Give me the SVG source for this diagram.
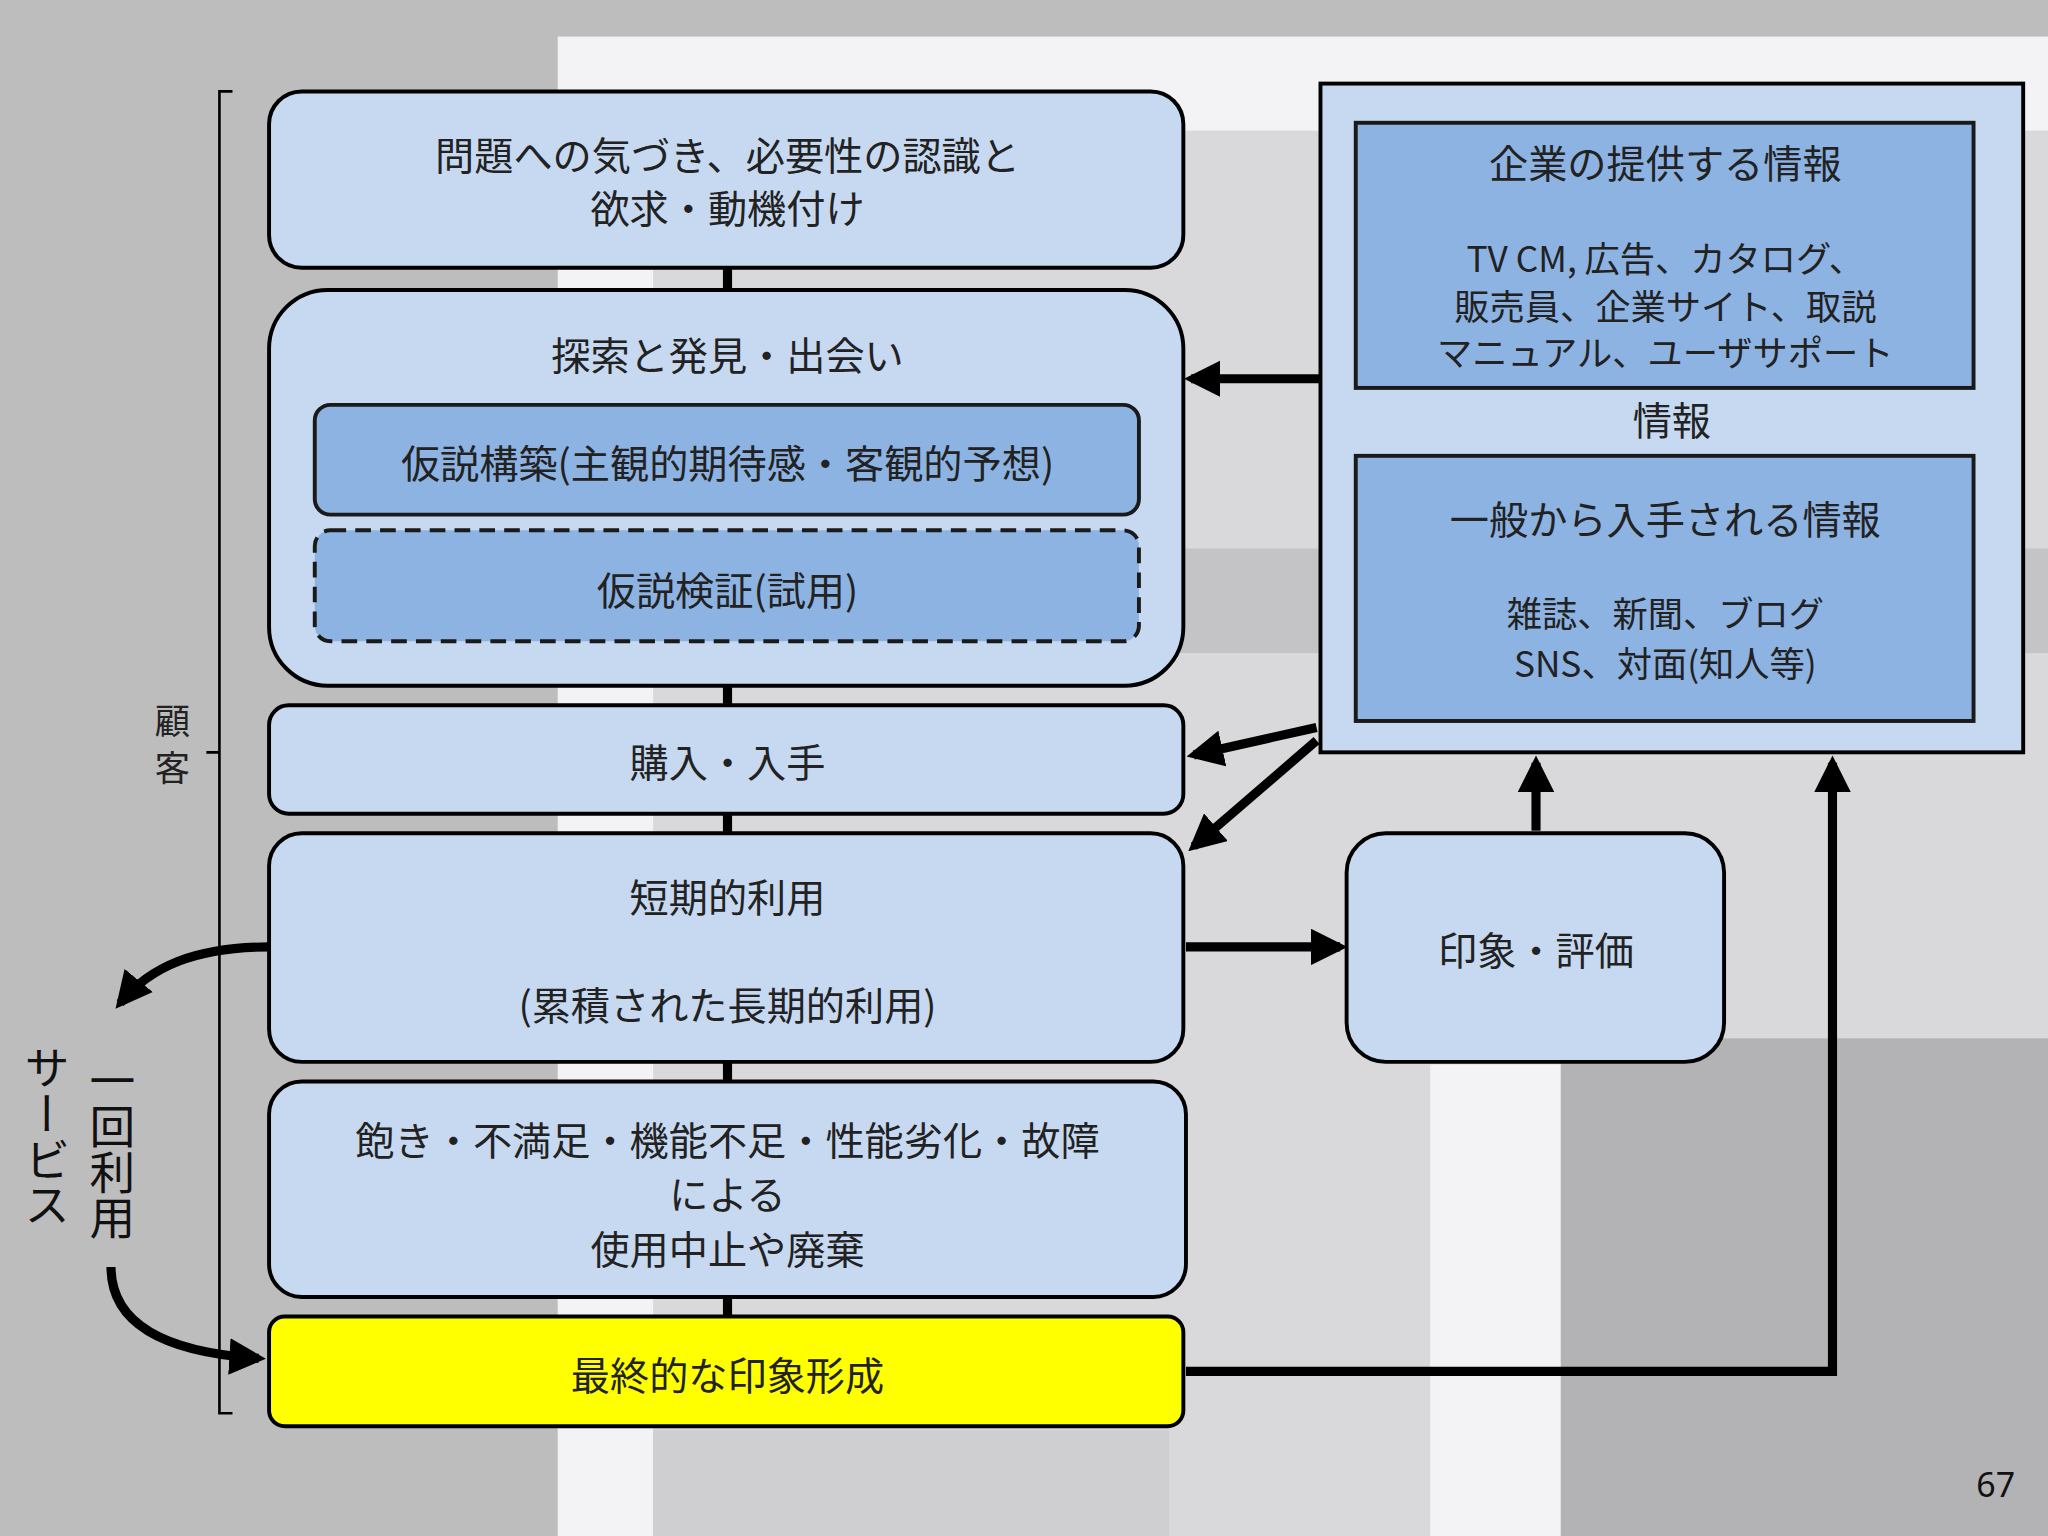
<svg xmlns="http://www.w3.org/2000/svg" width="2048" height="1536" viewBox="0 0 2048 1536">
<defs>
<style>
.n{fill:#c6d9f1;stroke:#000;stroke-width:3}
.i{fill:#8db3e2;stroke:#1a1a1a;stroke-width:3}
.t{font-family:"Noto Sans CJK JP",sans-serif;font-size:30px;fill:#222;text-anchor:middle}
.s{font-size:27px}
.c{stroke:#000;stroke-width:7;fill:none}
</style>
<marker id="a" viewBox="0 0 10 10" refX="8" refY="5" markerWidth="4" markerHeight="4" orient="auto" markerUnits="strokeWidth"><path d="M0,0L10,5L0,10z" fill="#000"/></marker>
</defs>
<g transform="scale(1.306122)">
<g id="bg">
<rect width="1568" height="1176" fill="#bdbdbd"/>
<rect x="427" y="28" width="1141" height="1148" fill="#f3f3f5"/>
<rect x="500" y="100" width="1068" height="1076" fill="#d9d9db"/>
<rect x="895" y="420" width="673" height="80" fill="#c4c4c6"/>
<rect x="1095" y="815" width="100" height="361" fill="#f3f3f5"/>
<rect x="1195" y="795" width="373" height="381" fill="#b3b3b5"/>
<rect x="500" y="1095" width="395" height="81" fill="#cfcfd1"/>
</g>
<g id="connectors">
<path class="c" d="M557 205V222M557 525V540M557 623V638M557 813V828M557 993V1008"/>
<path class="c" marker-end="url(#a)" d="M1011 290H912"/>
<path class="c" marker-end="url(#a)" d="M1008 557L914 578"/>
<path class="c" marker-end="url(#a)" d="M1008 567L914 648"/>
<path class="c" marker-end="url(#a)" d="M908 725H1026"/>
<path class="c" marker-end="url(#a)" d="M1176 636V584"/>
<path class="c" marker-end="url(#a)" d="M908 1050H1403V584"/>
<path class="c" marker-end="url(#a)" d="M206 725C150 725 115 740 92 768"/>
<path class="c" marker-end="url(#a)" d="M85 970C85 1010 120 1035 198 1040"/>
<path d="M178 70H168V1082H178M168 576H158" fill="none" stroke="#000" stroke-width="2"/>
</g>
<g id="n1"><rect class="n" x="206" y="70" width="700" height="135" rx="25"/>
<text class="t" x="557" y="130">問題への気づき、必要性の認識と</text><text class="t" x="557" y="171">欲求・動機付け</text></g>
<g id="n2"><rect class="n" x="206" y="222" width="700" height="303" rx="45"/>
<text class="t" x="557" y="283">探索と発見・出会い</text>
<rect class="i" x="241" y="310" width="631" height="84" rx="12"/><text class="t" x="557" y="366">仮説構築(主観的期待感・客観的予想)</text>
<rect class="i" x="241" y="406" width="631" height="85" rx="12" stroke-dasharray="12 7"/><text class="t" x="557" y="463">仮説検証(試用)</text></g>
<g id="n3"><rect class="n" x="206" y="540" width="700" height="83" rx="15"/><text class="t" x="557" y="595">購入・入手</text></g>
<g id="n4"><rect class="n" x="206" y="638" width="700" height="175" rx="25"/><text class="t" x="557" y="698">短期的利用</text><text class="t" x="557" y="781">(累積された長期的利用)</text></g>
<g id="n5"><rect class="n" x="206" y="828" width="702" height="165" rx="25"/><text class="t" x="557" y="884">飽き・不満足・機能不足・性能劣化・故障</text><text class="t" x="557" y="926">による</text><text class="t" x="557" y="968">使用中止や廃棄</text></g>
<g id="n6"><rect x="206" y="1008" width="700" height="84" rx="12" fill="#ffff00" stroke="#000" stroke-width="3"/><text class="t" x="557" y="1064">最終的な印象形成</text></g>
<g id="info"><rect class="n" x="1011" y="64" width="538" height="512"/>
<rect class="i" x="1038" y="94" width="473" height="203"/>
<text class="t" x="1275" y="136">企業の提供する情報</text>
<text class="t s" x="1275" y="208">TV CM, 広告、カタログ、</text>
<text class="t s" x="1275" y="245">販売員、企業サイト、取説</text>
<text class="t s" x="1275" y="280">マニュアル、ユーザサポート</text>
<text class="t" x="1280" y="333">情報</text>
<rect class="i" x="1038" y="349" width="473" height="203"/>
<text class="t" x="1275" y="409">一般から入手される情報</text>
<text class="t s" x="1275" y="480">雑誌、新聞、ブログ</text>
<text class="t s" x="1275" y="518">SNS、対面(知人等)</text></g>
<g id="imp"><rect class="n" x="1031" y="638" width="289" height="175" rx="30"/><text class="t" x="1176" y="739">印象・評価</text></g>
<g id="labels">
<text class="t s" x="132" y="562">顧</text><text class="t s" x="132" y="598">客</text>
<text x="86" y="810" writing-mode="tb" font-family="Noto Sans CJK JP,sans-serif" font-size="35" fill="#111">一回利用</text>
<text x="36" y="800" writing-mode="tb" font-family="Noto Sans CJK JP,sans-serif" font-size="35" fill="#111">サービス</text>
<text x="1528" y="1146" font-family="Noto Sans,sans-serif" font-size="26" fill="#111" text-anchor="middle">67</text>
</g>
</g>
</svg>
